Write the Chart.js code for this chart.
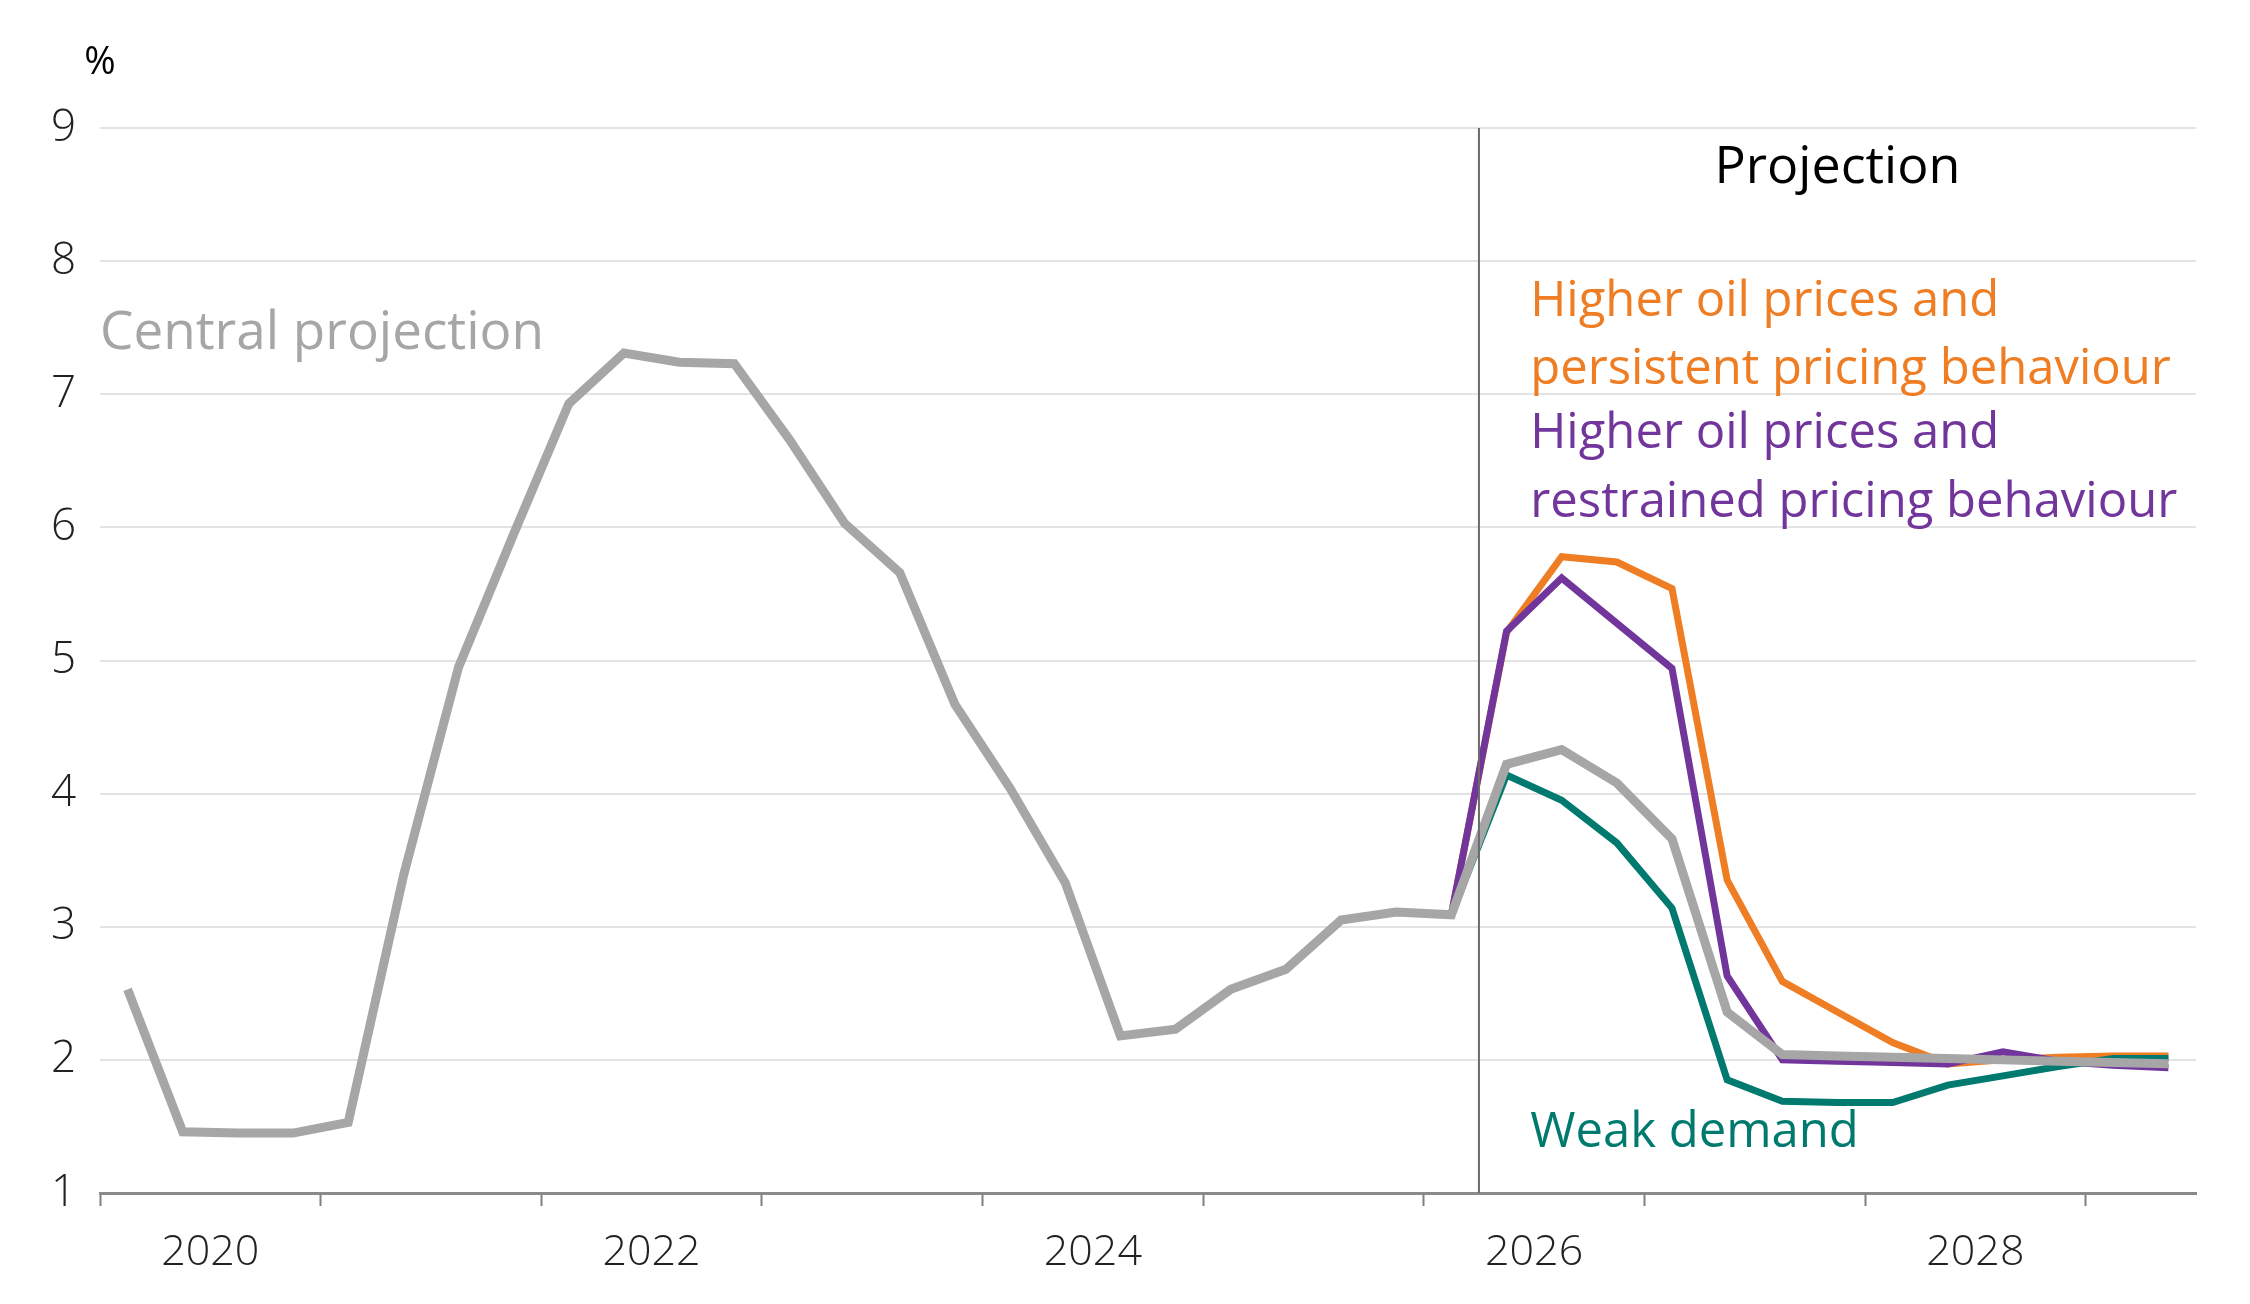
<!DOCTYPE html>
<html><head><meta charset="utf-8">
<script src="https://cdn.jsdelivr.net/npm/chart.js@4.4.1/dist/chart.umd.min.js"></script>
<style>html,body{margin:0;padding:0;background:#fff;}canvas{display:block;}</style>
</head><body>
<canvas id="c" width="2250" height="1304"></canvas>
<script>
// ---- data ----
const quarters = [
  '2020Q1','2020Q2','2020Q3','2020Q4','2021Q1','2021Q2','2021Q3','2021Q4',
  '2022Q1','2022Q2','2022Q3','2022Q4','2023Q1','2023Q2','2023Q3','2023Q4',
  '2024Q1','2024Q2','2024Q3','2024Q4','2025Q1','2025Q2','2025Q3','2025Q4',
  '2026Q1','2026Q2','2026Q3','2026Q4','2027Q1','2027Q2','2027Q3','2027Q4',
  '2028Q1','2028Q2','2028Q3','2028Q4','2029Q1','2029Q2'
];
const yearTickLabels = ['2020','2022','2024','2026','2028'];
const yTicks = [1,2,3,4,5,6,7,8,9];
const central = [2.53,1.46,1.45,1.45,1.53,3.38,4.95,5.95,6.93,7.31,7.24,7.23,6.66,6.03,5.66,4.67,
  4.04,3.33,2.18,2.23,2.53,2.68,3.05,3.11,3.09,4.22,4.33,4.08,3.66,2.36,2.04,2.03,2.02,2.01,2.00,1.99,1.98,1.97];
const scenarioStart = '2026Q1';
const projectionStart = '2026Q2';
const persistentOil = [3.09,5.21,5.78,5.74,5.54,3.35,2.59,2.36,2.13,1.97,2.00,2.02,2.03,2.03];
const restrainedOil = [3.09,5.22,5.62,5.28,4.94,2.63,2.00,1.99,1.98,1.97,2.06,1.99,1.96,1.94];
const weakDemand    = [3.09,4.14,3.95,3.63,3.14,1.85,1.69,1.68,1.68,1.81,1.88,1.95,2.01,2.01];

const COL = {grey:'#a6a6a6', orange:'#ee7d23', purple:'#71359b', teal:'#007a6e'};
const FONT = "'Open Sans', 'Noto Sans', sans-serif";

const s0 = quarters.indexOf(scenarioStart);
const toPts = (arr, start) => arr.map((v, i) => ({x: start + i + 0.5, y: v}));

const annot = {
  id: 'annot',
  afterDatasetsDraw(chart) {
    const {ctx, scales:{x, y}} = chart;
    const px = x.getPixelForValue(quarters.indexOf(projectionStart));
    ctx.save();
    ctx.strokeStyle = '#6b6b6b';
    ctx.lineWidth = 2;
    ctx.beginPath();
    ctx.moveTo(px, y.getPixelForValue(9));
    ctx.lineTo(px, y.getPixelForValue(1));
    ctx.stroke();
    ctx.restore();
  },
  afterDraw(chart) {
    const {ctx, chartArea, scales:{x, y}} = chart;
    ctx.save();
    ctx.textBaseline = 'middle';
    ctx.textAlign = 'left';
    ctx.font = `400 53px ${FONT}`;
    ctx.fillStyle = COL.grey;
    ctx.fillText('Central projection', x.getPixelForValue(0), y.getPixelForValue(7.45));
    ctx.font = `400 49px ${FONT}`;
    const lx = x.getPixelForValue(25.93);
    ctx.fillStyle = COL.orange;
    ctx.fillText('Higher oil prices and', lx, y.getPixelForValue(7.69));
    ctx.fillText('persistent pricing behaviour', lx, y.getPixelForValue(7.18));
    ctx.fillStyle = COL.purple;
    ctx.fillText('Higher oil prices and', lx, y.getPixelForValue(6.70));
    ctx.fillText('restrained pricing behaviour', lx, y.getPixelForValue(6.18));
    ctx.fillStyle = COL.teal;
    ctx.fillText('Weak demand', lx, y.getPixelForValue(1.45));
    ctx.font = `400 52px ${FONT}`;
    ctx.fillStyle = '#000';
    ctx.textAlign = 'center';
    ctx.fillText('Projection', x.getPixelForValue(31.5), y.getPixelForValue(8.70));
    ctx.font = `400 38px ${FONT}`;
    ctx.fillText('%', chartArea.left, chartArea.top - 65);
    ctx.restore();
  }
};

new Chart(document.getElementById('c'), {
  type: 'line',
  data: {
    datasets: [
      {label:'Central projection', data: toPts(central, 0), borderColor: COL.grey, borderWidth: 9},
      {label:'Weak demand', data: toPts(weakDemand, s0), borderColor: COL.teal, borderWidth: 7},
      {label:'Higher oil prices and restrained pricing behaviour', data: toPts(restrainedOil, s0), borderColor: COL.purple, borderWidth: 7},
      {label:'Higher oil prices and persistent pricing behaviour', data: toPts(persistentOil, s0), borderColor: COL.orange, borderWidth: 7}
    ]
  },
  options: {
    responsive: false,
    animation: false,
    devicePixelRatio: 1,
    elements: {point: {radius: 0}, line: {tension: 0, borderJoinStyle: 'miter', borderCapStyle: 'butt'}},
    layout: {padding: {top: 128, right: 54, bottom: 0, left: 0}},
    plugins: {legend: {display: false}, tooltip: {enabled: false}},
    scales: {
      x: {
        type: 'linear', min: 0, max: quarters.length,
        afterBuildTicks(axis) {
          const t = [];
          for (let v = 0; v <= quarters.length; v += 2) t.push({value: v});
          axis.ticks = t;
        },
        afterFit(scale) { scale.height = 111; },
        ticks: {
          autoSkip: false, maxRotation: 0, padding: 21,
          font: {family: FONT, size: 43, weight: 300}, color: '#222',
          callback(v) {
            const q = quarters[v];
            if (!q || !q.endsWith('Q3')) return '';
            const yr = q.slice(0, 4);
            return yearTickLabels.includes(yr) ? yr : '';
          }
        },
        grid: {
          display: true, drawOnChartArea: false, drawTicks: true, tickLength: 13, tickWidth: 2,
          tickColor: (c) => (c.tick && c.tick.value % 4 === 0) ? '#7f7f7f' : 'rgba(0,0,0,0)'
        },
        border: {display: true, color: '#8a8a8a', width: 3}
      },
      y: {
        min: 1, max: 9,
        afterBuildTicks(axis) { axis.ticks = yTicks.map(v => ({value: v})); },
        afterFit(scale) { scale.width = 100; },
        ticks: {padding: 24, font: {family: FONT, size: 44, weight: 300}, color: '#222'},
        grid: {color: '#e3e3e3', lineWidth: 2, drawTicks: false},
        border: {display: false}
      }
    }
  },
  plugins: [annot]
});
</script>
</body></html>
